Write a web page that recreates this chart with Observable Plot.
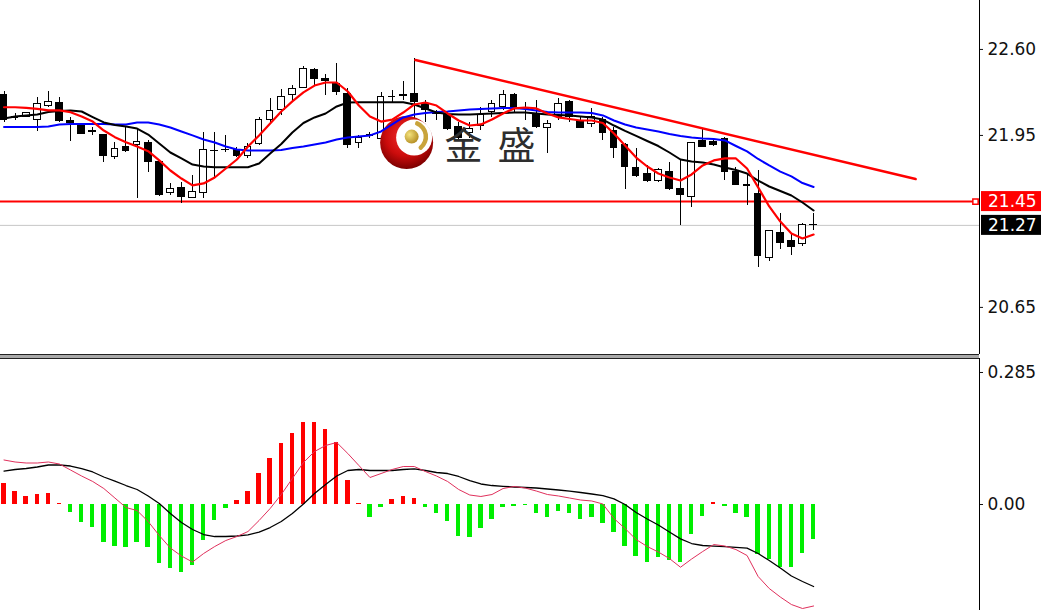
<!DOCTYPE html>
<html>
<head>
<meta charset="utf-8">
<script src="https://cdn.jsdelivr.net/npm/d3@7"></script>
<script src="https://cdn.jsdelivr.net/npm/@observablehq/plot@0.6"></script>
<style>
  html, body { margin: 0; padding: 0; background: #fff; }
  #chart { position: relative; width: 1041px; height: 610px; overflow: hidden; background: #fff; }
  #chart svg { display: block; }
  .panel-gap { width: 979px; height: 3px; background: #a9a9a9; }
</style>
</head>
<body>
<div id="chart"></div>
<script>
// ---- price candles (one per bar, oldest first) ----
const open = [22.252, 22.090, 22.093, 22.063, 22.171, 22.194, 22.058, 22.033, 21.984, 21.950,
  21.786, 21.861, 21.879, 21.891, 21.748, 21.513, 21.551, 21.476, 21.515, 21.836,
  21.843, 21.841, 21.791, 21.887, 22.063, 22.139, 22.252, 22.310, 22.441, 22.373,
  22.340, 22.265, 21.891, 21.948, 21.925, 22.237, 22.250, 22.265, 22.189, 22.120,
  22.101, 22.010, 21.965, 22.025, 22.126, 22.163, 22.252, 22.157, 22.114, 22.008,
  22.088, 22.201, 22.058, 22.033, 22.063, 21.987, 21.874, 21.705, 21.655, 21.604,
  21.672, 21.547, 21.483, 21.906, 21.899, 21.925, 21.672, 21.575, 21.509, 21.022,
  21.211, 21.151, 21.126, 21.272];
const high = [22.284, 22.116, 22.126, 22.237, 22.284, 22.237, 22.088, 22.042, 22.012, 21.957,
  21.899, 22.012, 22.002, 21.912, 21.750, 21.584, 21.597, 21.647, 21.975, 21.975,
  21.950, 21.861, 21.887, 22.088, 22.232, 22.295, 22.327, 22.471, 22.454, 22.411,
  22.492, 22.302, 21.950, 21.975, 22.277, 22.290, 22.360, 22.529, 22.214, 22.139,
  22.126, 22.048, 22.048, 22.163, 22.214, 22.290, 22.269, 22.201, 22.214, 22.063,
  22.227, 22.214, 22.088, 22.151, 22.086, 22.012, 21.887, 21.849, 21.723, 21.700,
  21.748, 21.766, 21.899, 22.000, 21.912, 21.932, 21.705, 21.647, 21.685, 21.231,
  21.358, 21.201, 21.282, 21.358];
const low = [22.050, 22.063, 22.088, 21.980, 22.163, 22.050, 21.906, 21.957, 21.950, 21.748,
  21.768, 21.823, 21.471, 21.672, 21.490, 21.496, 21.438, 21.471, 21.471, 21.634,
  21.823, 21.786, 21.773, 21.874, 22.033, 22.101, 22.214, 22.302, 22.327, 22.252,
  22.252, 21.849, 21.849, 21.925, 21.912, 22.201, 22.214, 22.050, 22.050, 22.063,
  21.987, 21.912, 21.927, 21.987, 22.088, 22.139, 22.114, 22.063, 22.000, 21.811,
  22.063, 22.050, 22.000, 22.012, 21.912, 21.773, 21.539, 21.634, 21.597, 21.597,
  21.534, 21.269, 21.408, 21.861, 21.866, 21.609, 21.572, 21.420, 20.950, 20.999,
  21.086, 21.042, 21.110, 21.232];
const close = [22.063, 22.080, 22.118, 22.191, 22.201, 22.058, 22.044, 21.962, 21.976, 21.798,
  21.851, 21.836, 21.904, 21.748, 21.496, 21.547, 21.483, 21.526, 21.841, 21.834,
  21.839, 21.798, 21.866, 22.063, 22.133, 22.244, 22.302, 22.454, 22.378, 22.358,
  22.277, 21.874, 21.932, 21.952, 22.239, 22.241, 22.254, 22.201, 22.139, 22.114,
  22.002, 21.927, 22.002, 22.101, 22.189, 22.252, 22.163, 22.150, 22.012, 22.033,
  22.189, 22.088, 22.008, 22.088, 21.972, 21.857, 21.710, 21.640, 21.609, 21.685,
  21.547, 21.496, 21.891, 21.866, 21.874, 21.672, 21.579, 21.567, 21.035, 21.226,
  21.135, 21.110, 21.275, 21.270];

// ---- moving averages ----
const maFast = [22.163, 22.163, 22.159, 22.151, 22.139, 22.139, 22.126, 22.093, 22.055, 21.987,
  21.937, 21.899, 21.866, 21.831, 21.761, 21.685, 21.624, 21.572, 21.587, 21.632,
  21.700, 21.768, 21.866, 21.950, 22.040, 22.131, 22.207, 22.275, 22.327, 22.350,
  22.350, 22.282, 22.176, 22.093, 22.055, 22.070, 22.123, 22.184, 22.199, 22.176,
  22.116, 22.063, 22.025, 22.033, 22.070, 22.116, 22.154, 22.161, 22.154, 22.116,
  22.086, 22.074, 22.063, 22.063, 22.044, 21.965, 21.874, 21.783, 21.715, 21.662,
  21.632, 21.609, 21.655, 21.723, 21.761, 21.776, 21.776, 21.700, 21.557, 21.413,
  21.299, 21.209, 21.171, 21.201];
const maMid = [22.078, 22.093, 22.101, 22.108, 22.127, 22.135, 22.139, 22.131, 22.089, 22.048,
  22.029, 22.018, 22.002, 21.957, 21.889, 21.821, 21.776, 21.730, 21.715, 21.710,
  21.710, 21.710, 21.710, 21.738, 21.813, 21.885, 21.972, 22.044, 22.086, 22.116,
  22.169, 22.199, 22.201, 22.201, 22.201, 22.201, 22.201, 22.184, 22.154, 22.123,
  22.112, 22.108, 22.108, 22.112, 22.116, 22.120, 22.123, 22.123, 22.116, 22.108,
  22.104, 22.101, 22.093, 22.086, 22.070, 22.025, 21.984, 21.946, 21.908, 21.870,
  21.821, 21.768, 21.753, 21.745, 21.730, 21.708, 21.689, 21.662, 21.609, 21.564,
  21.530, 21.496, 21.443, 21.383];
const maSlow = [22.014, 22.014, 22.014, 22.014, 22.018, 22.033, 22.037, 22.037, 22.037, 22.037,
  22.033, 22.033, 22.048, 22.048, 22.033, 22.010, 21.980, 21.950, 21.919, 21.897,
  21.866, 21.844, 21.836, 21.836, 21.836, 21.840, 21.855, 21.866, 21.881, 21.897,
  21.919, 21.934, 21.942, 21.950, 21.980, 22.033, 22.086, 22.108, 22.120, 22.127,
  22.131, 22.139, 22.146, 22.150, 22.154, 22.157, 22.157, 22.150, 22.139, 22.127,
  22.123, 22.123, 22.123, 22.120, 22.101, 22.063, 22.033, 22.010, 21.995, 21.980,
  21.961, 21.946, 21.934, 21.927, 21.923, 21.912, 21.870, 21.829, 21.772, 21.723,
  21.677, 21.640, 21.590, 21.560];

// ---- MACD panel ----
const macdHist = [0.045, 0.028, 0.018, 0.022, 0.024, 0.003, -0.017, -0.038, -0.050, -0.081,
  -0.090, -0.092, -0.081, -0.092, -0.128, -0.139, -0.146, -0.132, -0.078, -0.035,
  -0.009, 0.009, 0.029, 0.066, 0.100, 0.131, 0.154, 0.178, 0.176, 0.161,
  0.134, 0.052, 0.003, -0.029, -0.007, 0.010, 0.017, 0.013, -0.006, -0.020,
  -0.036, -0.068, -0.071, -0.051, -0.032, -0.006, -0.004, -0.002, -0.020, -0.029,
  -0.015, -0.020, -0.032, -0.029, -0.040, -0.060, -0.091, -0.112, -0.125, -0.115,
  -0.121, -0.125, -0.065, -0.025, 0.004, -0.004, -0.020, -0.029, -0.108, -0.119,
  -0.135, -0.135, -0.105, -0.076];
const macdSignal = [0.0723, 0.0756, 0.0777, 0.0810, 0.0853, 0.0853, 0.0831, 0.0777, 0.0702, 0.0594,
  0.0507, 0.0410, 0.0324, 0.0184, 0.0022, -0.0194, -0.0389, -0.0540, -0.0648, -0.0691,
  -0.0691, -0.0680, -0.0654, -0.0594, -0.0497, -0.0367, -0.0194, 0.0011, 0.0237, 0.0432,
  0.0615, 0.0734, 0.0756, 0.0734, 0.0734, 0.0734, 0.0756, 0.0771, 0.0734, 0.0691,
  0.0669, 0.0605, 0.0518, 0.0443, 0.0410, 0.0393, 0.0378, 0.0367, 0.0356, 0.0335,
  0.0313, 0.0291, 0.0259, 0.0227, 0.0194, 0.0123, 0.0000, -0.0173, -0.0313, -0.0443,
  -0.0594, -0.0741, -0.0842, -0.0885, -0.0900, -0.0911, -0.0924, -0.0943, -0.1058, -0.1209,
  -0.1371, -0.1544, -0.1662, -0.1770];
const macdMain = [0.0961, 0.0918, 0.0896, 0.0896, 0.0918, 0.0874, 0.0745, 0.0615, 0.0497, 0.0345,
  0.0140, -0.0065, -0.0130, -0.0367, -0.0669, -0.0939, -0.1112, -0.1241, -0.1058, -0.0907,
  -0.0777, -0.0691, -0.0583, -0.0345, -0.0086, 0.0216, 0.0561, 0.0907, 0.1144, 0.1274,
  0.1339, 0.1101, 0.0842, 0.0583, 0.0669, 0.0756, 0.0820, 0.0820, 0.0712, 0.0615,
  0.0497, 0.0324, 0.0205, 0.0173, 0.0216, 0.0345, 0.0389, 0.0356, 0.0291, 0.0216,
  0.0184, 0.0140, 0.0097, 0.0076, 0.0011, -0.0302, -0.0518, -0.0756, -0.0907, -0.1025,
  -0.1166, -0.1354, -0.1177, -0.1015, -0.0864, -0.0896, -0.0972, -0.1101, -0.1554, -0.1813,
  -0.1997, -0.2159, -0.2245, -0.2191];

// ---- levels, trend line and axis ticks ----
const supportLevel = 21.45;
const lastPrice = 21.27;
const trendIndex = [37.1, 82.2];
const trendPrice = [22.52, 21.62];
const priceTicks = [20.65, 21.95, 22.60];
const macdTicks = [0, 0.285];
const macdTickLabels = ["0.00", "0.285"];
const logoText = ["金", "盛"];
const logoAt = {index: 36.35, price: 21.892};

// ---- layout ----
const WIDTH = 1041;
const AXIS_W = 62;
const X_DOMAIN = [-0.316, 87.96];
const PRICE_DOMAIN = [20.294, 22.970];
const MACD_DOMAIN = [-0.2288, 0.3152];
const FONT = "'DejaVu Sans', Verdana, sans-serif";

const candles = open.map((o, i) => ({i, o, h: high[i], l: low[i], c: close[i], up: close[i] > o}));
const series = (arr) => arr.map((v, i) => ({i, v}));
const trend = trendIndex.map((x, k) => ({x, y: trendPrice[k]}));

const baseStyle = {fontFamily: FONT, fontSize: "17px", color: "#111", background: "#fff", overflow: "visible"};

const pricePlot = Plot.plot({
  width: WIDTH, height: 355,
  marginTop: 0, marginBottom: 1, marginLeft: 0, marginRight: AXIS_W,
  x: {domain: X_DOMAIN, axis: null},
  y: {domain: PRICE_DOMAIN, axis: null},
  color: {type: "identity"},
  style: baseStyle,
  marks: [
    Plot.ruleY([lastPrice], {stroke: "#c6c6c6", strokeWidth: 1}),
    Plot.ruleY([supportLevel], {stroke: "#ff0000", strokeWidth: 2}),
    Plot.dot([supportLevel], {y: d => d, frameAnchor: "right", dx: -4, symbol: "square", r: 3, fill: "#fff", stroke: "#ff0000", strokeWidth: 1.5}),
    Plot.ruleX(candles, {x: "i", y1: "l", y2: "h", stroke: "#000", strokeWidth: 1, shapeRendering: "crispEdges"}),
    Plot.rect(candles, {
      x1: d => d.i - 0.3, x2: d => d.i + 0.3, y1: "o", y2: "c",
      fill: d => d.up ? "#fff" : "#000", stroke: "#000", strokeWidth: 1, shapeRendering: "crispEdges"
    }),
    Plot.line(series(maSlow), {x: "i", y: "v", stroke: "#0000ff", strokeWidth: 2}),
    Plot.line(series(maMid), {x: "i", y: "v", stroke: "#000", strokeWidth: 2}),
    Plot.line(series(maFast), {x: "i", y: "v", stroke: "#ff0000", strokeWidth: 2.2}),
    Plot.line(trend, {x: "x", y: "y", stroke: "#ff0000", strokeWidth: 2.5}),
    Plot.ruleX([X_DOMAIN[1]], {stroke: "#000", strokeWidth: 1}),
    Plot.ruleY([PRICE_DOMAIN[0]], {stroke: "#222", strokeWidth: 1}),
    Plot.axisY(priceTicks, {anchor: "right", tickSize: 3, tickPadding: 5, tickFormat: d => d.toFixed(2), label: null})
  ]
});

// watermark logo, placed under the moving-average lines
{
  const xs = pricePlot.scale("x"), ys = pricePlot.scale("y");
  const cx = xs.apply(logoAt.index), cy = ys.apply(logoAt.price);
  const g = d3.create("svg:g").attr("transform", `translate(${cx},${cy})`);
  const defs = g.append("defs");
  const rg = defs.append("radialGradient").attr("id", "logo-red").attr("cx", "48%").attr("cy", "38%").attr("r", "62%");
  rg.append("stop").attr("offset", "0%").attr("stop-color", "#f23030");
  rg.append("stop").attr("offset", "60%").attr("stop-color", "#cc0c0c");
  rg.append("stop").attr("offset", "100%").attr("stop-color", "#7a0000");
  const gg = defs.append("radialGradient").attr("id", "logo-gold").attr("cx", "35%").attr("cy", "35%").attr("r", "70%");
  gg.append("stop").attr("offset", "0%").attr("stop-color", "#f4e27c");
  gg.append("stop").attr("offset", "100%").attr("stop-color", "#b38c22");
  g.append("circle").attr("r", 26.5).attr("fill", "url(#logo-red)");
  g.append("circle").attr("cx", 7.5).attr("cy", -5).attr("r", 18).attr("fill", "#fff");
  g.append("path")
    .attr("transform", "translate(5,-6)")
    .attr("d", d3.arc().innerRadius(12).outerRadius(16.5).startAngle(0.25).endAngle(2.6).cornerRadius(2)())
    .attr("fill", "#c9a43c");
  g.append("circle").attr("cx", 5).attr("cy", -6).attr("r", 7).attr("fill", "url(#logo-gold)");
  logoText.forEach((ch, k) => {
    g.append("text")
      .attr("x", 57 + k * 53).attr("y", 0)
      .attr("text-anchor", "middle").attr("dominant-baseline", "central")
      .attr("font-family", "'Noto Sans CJK SC', sans-serif").attr("font-size", 38)
      .attr("fill", "#2e2e2e").text(ch);
  });
  const firstLine = pricePlot.querySelector('g[aria-label="line"]');
  pricePlot.insertBefore(g.node(), firstLine);

  // current-level tags on the price scale
  [{v: supportLevel, bg: "#ff0000"}, {v: lastPrice, bg: "#000"}].forEach(({v, bg}) => {
    const y = ys.apply(v);
    const tag = d3.select(pricePlot).append("g");
    tag.append("rect").attr("x", WIDTH - AXIS_W + 2).attr("y", y - 10).attr("width", AXIS_W - 2).attr("height", 20).attr("fill", bg);
    tag.append("text").attr("x", WIDTH - AXIS_W + 9).attr("y", y).attr("dy", "0.36em")
      .attr("text-anchor", "start")
      .attr("fill", "#fff").attr("font-family", FONT).attr("font-size", 17).text(v.toFixed(2));
  });
}

const hist = series(macdHist);
const macdPlot = Plot.plot({
  width: WIDTH, height: 252,
  marginTop: 0, marginBottom: 0, marginLeft: 0, marginRight: AXIS_W,
  x: {domain: X_DOMAIN, axis: null},
  y: {domain: MACD_DOMAIN, axis: null},
  color: {type: "identity"},
  style: baseStyle,
  marks: [
    Plot.rect(hist, {
      x1: d => d.i - 0.2, x2: d => d.i + 0.2, y1: () => 0, y2: "v",
      fill: d => d.v >= 0 ? "#ff0000" : "#00ee00", shapeRendering: "crispEdges"
    }),
    Plot.line(series(macdSignal), {x: "i", y: "v", stroke: "#000", strokeWidth: 1.3}),
    Plot.line(series(macdMain), {x: "i", y: "v", stroke: "#e0305c", strokeWidth: 1}),
    Plot.ruleX([X_DOMAIN[1]], {stroke: "#000", strokeWidth: 1}),
    Plot.ruleY([MACD_DOMAIN[1]], {stroke: "#222", strokeWidth: 1}),
    Plot.axisY(macdTicks, {anchor: "right", tickSize: 3, tickPadding: 5, tickFormat: d => macdTickLabels[macdTicks.indexOf(d)], label: null})
  ]
});

const chart = document.getElementById("chart");
chart.appendChild(pricePlot);
const gap = document.createElement("div");
gap.className = "panel-gap";
chart.appendChild(gap);
chart.appendChild(macdPlot);
</script>
</body>
</html>
